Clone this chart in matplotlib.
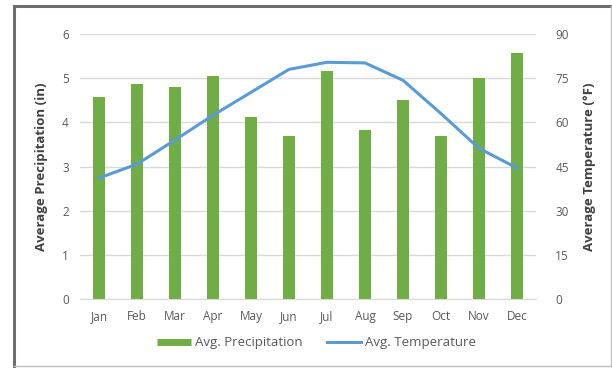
import numpy as np
import matplotlib.pyplot as plt
from matplotlib.lines import Line2D

months = ["Jan", "Feb", "Mar", "Apr", "May", "Jun", "Jul", "Aug", "Sep", "Oct", "Nov", "Dec"]
precip = [4.57, 4.87, 4.80, 5.05, 4.12, 3.68, 5.16, 3.82, 4.50, 3.69, 5.00, 5.57]
temp = [41.1, 45.8, 54.0, 62.4, 70.2, 78.0, 80.4, 80.2, 74.3, 63.0, 51.2, 44.5]

plt.rcParams['font.family'] = ['Open Sans', 'DejaVu Sans']
tick_col = '#595959'
green = '#70AD47'
blue = '#5B9BD5'

fig = plt.figure(figsize=(6.12, 3.68), dpi=100)
ax = fig.add_axes([0.1307, 0.1875, 0.745, 0.72])
x = np.arange(len(months))
ax.bar(x, precip, width=0.32, color=green, zorder=2)
ax.set_ylim(0, 6)
ax.set_xlim(-0.5, 11.5)
ax.set_yticks(range(0, 7))
ax.set_xticks(x)
ax.set_xticklabels(months)
ax.grid(axis='y', color='#D9D9D9', linewidth=1, zorder=0)
for s in ['top', 'right', 'left']:
    ax.spines[s].set_visible(False)
ax.spines['bottom'].set_color('#D9D9D9')
ax.tick_params(length=0, colors=tick_col, labelsize=8.5, pad=8)
ax.set_ylabel('Average Precipitation (in)', color='#404040', fontsize=9.5, fontweight='bold', labelpad=10)

ax2 = ax.twinx()
ax2.plot(x, temp, color=blue, linewidth=2.2, zorder=3)
ax2.set_ylim(0, 90)
ax2.set_yticks(range(0, 91, 15))
for s in ax2.spines.values():
    s.set_visible(False)
ax2.tick_params(length=0, colors=tick_col, labelsize=8.5, pad=14)
ax2.set_ylabel('Average Temperature (°F)', color='#404040', fontsize=9.5, fontweight='bold', labelpad=10)

handles = [Line2D([], [], color=green, linewidth=5, solid_capstyle='butt'),
           Line2D([], [], color=blue, linewidth=2.2)]
fig.legend(handles, ['Avg. Precipitation', 'Avg. Temperature'], loc='center',
           bbox_to_anchor=(0.517, 0.068), ncol=2, frameon=False, fontsize=9.5,
           labelcolor=tick_col, handlelength=2.6, columnspacing=1.8, handletextpad=0.3)

# outer frame: dark left/top, light right/bottom
fig.add_artist(Line2D([14 / 612, 14 / 612], [0, 1 - 6 / 368], transform=fig.transFigure, color='#6E6E6E', linewidth=2.2))
fig.add_artist(Line2D([14 / 612, 1], [1 - 6 / 368, 1 - 6 / 368], transform=fig.transFigure, color='#6E6E6E', linewidth=2.2))
fig.add_artist(Line2D([14 / 612, 1], [2 / 368, 2 / 368], transform=fig.transFigure, color='#BFBFBF', linewidth=1))
fig.add_artist(Line2D([610.5 / 612, 610.5 / 612], [2 / 368, 1 - 6 / 368], transform=fig.transFigure, color='#BFBFBF', linewidth=1))

plt.savefig('out.png', dpi=100)
